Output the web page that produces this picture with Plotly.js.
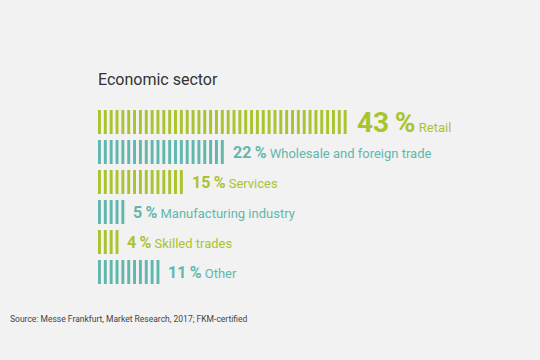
<!DOCTYPE html>
<html>
<head>
<meta charset="utf-8">
<script src="https://cdn.plot.ly/plotly-3.0.1.min.js"></script>
<style>
html,body{margin:0;padding:0;background:#f2f2f2;}
#chart{width:540px;height:360px;}
</style>
</head>
<body>
<div id="chart"></div>
<script>
const categories = ["Retail", "Wholesale and foreign trade", "Services", "Manufacturing industry", "Skilled trades", "Other"];
const shares = [43, 22, 15, 5, 4, 11];
const colors = ["#a9c42f", "#62b7ad", "#a9c42f", "#62b7ad", "#a9c42f", "#62b7ad"];
const title = "Economic sector";
const source = "Source: Messe Frankfurt, Market Research, 2017; FKM-certified";

const FONT = "Roboto, sans-serif";
const STRIPE = 0.5; // stripe width in percent units (one stripe per percentage point)

const traces = categories.map((cat, i) => {
  const bases = [], ys = [], lens = [];
  for (let k = 0; k < shares[i]; k++) { bases.push(k); ys.push(cat); lens.push(STRIPE); }
  return {
    type: "bar", orientation: "h", x: lens, base: bases, y: ys, width: 0.8,
    marker: {color: colors[i], line: {width: 0}},
    hoverinfo: "skip", showlegend: false
  };
});

const annotations = categories.map((cat, i) => {
  const big = i === 0;
  const numSize = big ? 28 : 16;
  const labSize = 13;
  return {
    x: shares[i] - 1 + STRIPE, y: cat, xref: "x", yref: "y",
    xanchor: "left", yanchor: "middle", showarrow: false,
    xshift: big ? 8 : 7,
    text: `<span style="font-size:${numSize}px"><b>${shares[i]}\u2009%</b></span> <span style="font-size:${labSize}px">${cat}</span>`,
    font: {family: FONT, color: colors[i], size: labSize}
  };
});

annotations.push({
  xref: "paper", yref: "paper", x: -2 / 442, y: 1, xanchor: "left", yanchor: "bottom",
  yshift: 16, showarrow: false, text: title,
  font: {family: FONT, size: 16, color: "#333333"}
});
annotations.push({
  xref: "paper", yref: "paper", x: -90 / 442, y: 0, xanchor: "left", yanchor: "top",
  yshift: -25, showarrow: false, text: source,
  font: {family: FONT, size: 8.5, color: "#444444"}
});

const layout = {
  width: 540, height: 360,
  paper_bgcolor: "#f2f2f2", plot_bgcolor: "#f2f2f2",
  margin: {l: 98, r: 0, t: 107, b: 73},
  barmode: "overlay",
  xaxis: {range: [0, 75.56], visible: false, fixedrange: true},
  yaxis: {type: "category", categoryarray: categories, range: [5.5, -0.5], visible: false, fixedrange: true},
  annotations: annotations,
  showlegend: false
};

Plotly.newPlot("chart", traces, layout, {displayModeBar: false, staticPlot: true});
</script>
</body>
</html>
